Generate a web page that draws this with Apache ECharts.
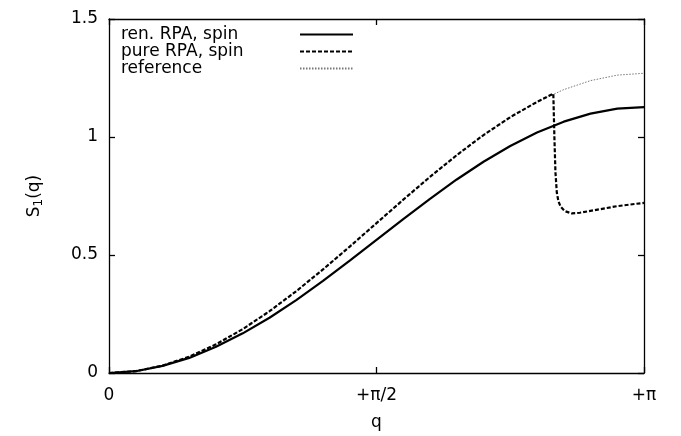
<!DOCTYPE html>
<html><head><meta charset="utf-8">
<script src="https://cdn.jsdelivr.net/npm/echarts@6/dist/echarts.min.js"></script>
<style>html,body{margin:0;padding:0;background:#fff}#c{width:681px;height:436px}</style>
</head><body><div id="c"></div>
<script>
// q in units of pi
const qGrid = [0,0.05,0.1,0.15,0.2,0.25,0.3,0.35,0.4,0.45,0.5,0.55,0.6,0.65,0.7,0.75,0.8,0.85,0.9,0.95,1.0];
const renVals = [0,0.0076,0.030,0.064,0.111,0.168,0.234,0.309,0.390,0.476,0.564,0.652,0.738,0.820,0.895,0.962,1.019,1.065,1.099,1.120,1.127];
const refVals = [0,0.0078,0.0311,0.0692,0.1213,0.186,0.2618,0.3467,0.4388,0.5357,0.635,0.7343,0.8312,0.9233,1.0083,1.084,1.1487,1.2008,1.2389,1.2622,1.27];
const qPure = [0,0.05,0.1,0.15,0.2,0.25,0.3,0.35,0.4,0.45,0.5,0.55,0.6,0.65,0.7,0.75,0.8,0.8305,0.8325,0.8345,0.837,0.840,0.844,0.852,0.865,0.88,0.9,0.95,1.0];
const pureVals = [0,0.0078,0.0311,0.0692,0.1213,0.186,0.2618,0.3467,0.4388,0.5357,0.635,0.7343,0.8312,0.9233,1.0083,1.084,1.1487,1.184,1.0,0.85,0.765,0.728,0.705,0.686,0.676,0.679,0.687,0.707,0.721];
const xTickLabels = {0:'0', 0.5:'+\u03c0/2', 1:'+\u03c0'};
const seriesNames = ['ren. RPA, spin','pure RPA, spin','reference'];

const FONT = "'DejaVu Sans', 'Liberation Sans', Arial, sans-serif";
const pair = (xs, ys) => xs.map((x,i)=>[x, ys[i]]);
const chart = echarts.init(document.getElementById('c'), null, {renderer:'canvas'});
const axisBase = {
  axisLine:{show:true, onZero:false, lineStyle:{color:'#000', width:1.3}},
  axisTick:{show:true, inside:true, length:6, lineStyle:{color:'#000', width:1.3}},
  splitLine:{show:false}
};
chart.setOption({
  animation:false,
  backgroundColor:'#fff',
  grid:{left:109, right:37, top:19, bottom:61},
  legend:{
    orient:'vertical', left:121, top:26, padding:0, itemGap:0,
    itemWidth:53, itemHeight:18, align:'right',
    itemStyle:{opacity:0},
    formatter: n => '{t|' + n + '}',
    textStyle:{color:'#000', fontFamily:FONT, fontSize:17,
      rich:{t:{width:174, align:'left', fontFamily:FONT, fontSize:17, color:'#000'}}},
    data:seriesNames
  },
  xAxis:[
    Object.assign({type:'value', min:0, max:1, interval:0.5, position:'bottom',
      name:'q', nameLocation:'middle', nameGap:41,
      nameTextStyle:{color:'#000', fontFamily:FONT, fontSize:17},
      axisLabel:{color:'#000', fontFamily:FONT, fontSize:17, margin:14,
        formatter: v => xTickLabels[v] !== undefined ? xTickLabels[v] : ''}}, axisBase),
    Object.assign({type:'value', min:0, max:1, interval:0.5, position:'top',
      axisLabel:{show:false}}, axisBase)
  ],
  yAxis:[
    Object.assign({type:'value', min:0, max:1.5, interval:0.5, position:'left',
      name:'{a|S}{s|1}{a|(q)}', nameLocation:'middle', nameGap:64,
      nameTextStyle:{color:'#000', fontFamily:FONT, fontSize:17,
        rich:{a:{fontFamily:FONT, fontSize:17, color:'#000'},
              s:{fontFamily:FONT, fontSize:12, color:'#000', padding:[9,0,0,0]}}},
      axisLabel:{color:'#000', fontFamily:FONT, fontSize:17, margin:11}}, axisBase),
    Object.assign({type:'value', min:0, max:1.5, interval:0.5, position:'right',
      axisLabel:{show:false}}, axisBase)
  ],
  series:[
    {name:seriesNames[2], type:'line', data:pair(qGrid, refVals), showSymbol:false, symbol:'none',
      lineStyle:{color:'#777', width:1, type:[1.5,1.5]}, itemStyle:{color:'#777'}, z:1},
    {name:seriesNames[1], type:'line', data:pair(qPure, pureVals), showSymbol:false, symbol:'none',
      lineStyle:{color:'#000', width:2.2, type:[4,2]}, itemStyle:{color:'#000'}, z:2},
    {name:seriesNames[0], type:'line', data:pair(qGrid, renVals), showSymbol:false, symbol:'none',
      lineStyle:{color:'#000', width:2.2, type:'solid'}, itemStyle:{color:'#000'}, z:3}
  ]
});
</script></body></html>
